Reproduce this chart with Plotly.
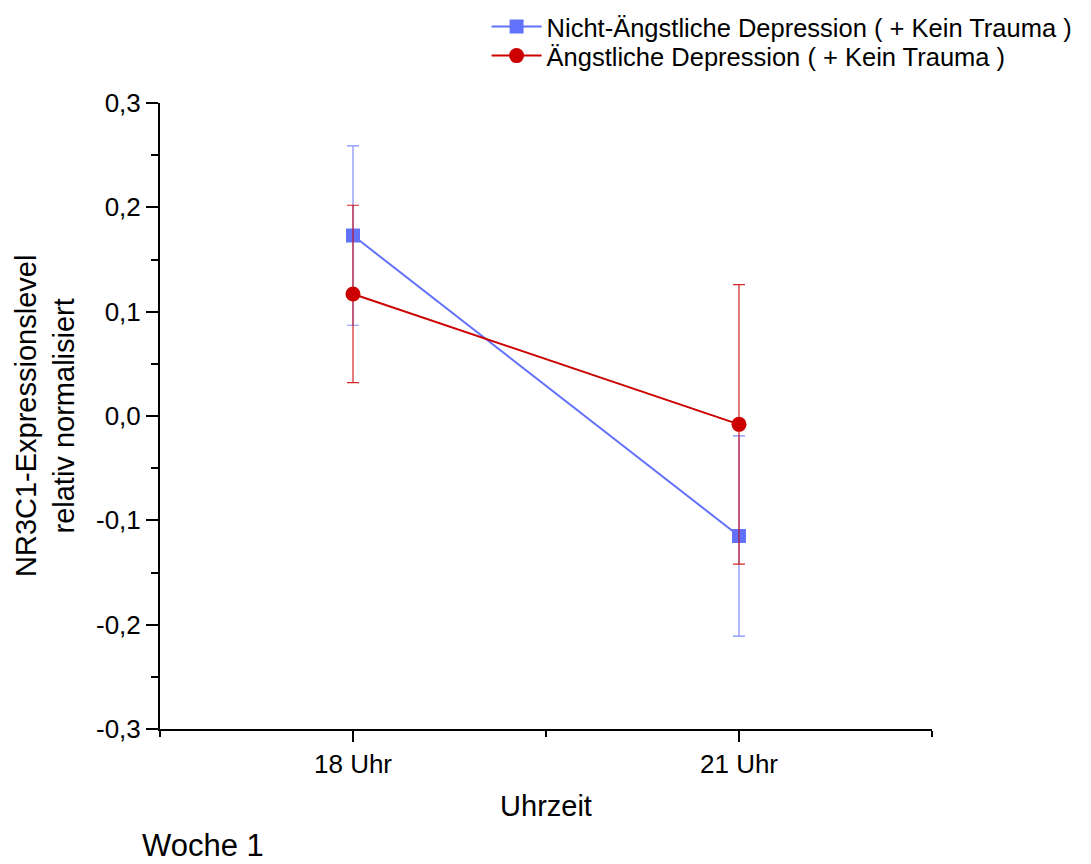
import plotly.graph_objects as go

categories = ["18 Uhr", "21 Uhr"]
series_names = ["Nicht-Ängstliche Depression ( + Kein Trauma )",
                "Ängstliche Depression ( + Kein Trauma )"]
nicht_angst_mean = [0.173, -0.115]
nicht_angst_err = [0.086, 0.096]
angst_mean = [0.117, -0.008]
angst_err = [0.085, 0.134]
y_tickvals = [-0.3, -0.2, -0.1, 0.0, 0.1, 0.2, 0.3]
y_ticktext = ["-0,3", "-0,2", "-0,1", "0,0", "0,1", "0,2", "0,3"]

xpos = list(range(len(categories)))
FONT = "Liberation Sans, Arial, sans-serif"

fig = go.Figure()
fig.add_trace(go.Scatter(
    x=xpos, y=nicht_angst_mean, name=series_names[0], mode="lines+markers",
    line=dict(color="#6272fb", width=2),
    marker=dict(symbol="square", size=14, color="#6272fb"),
    error_y=dict(type="data", array=nicht_angst_err, visible=True,
                 color="rgba(98,114,251,0.8)", thickness=1.2, width=6),
    legend="legend",
))
fig.add_trace(go.Scatter(
    x=xpos, y=angst_mean, name=series_names[1], mode="lines+markers",
    line=dict(color="#cc0000", width=2),
    marker=dict(symbol="circle", size=15, color="#cc0000"),
    error_y=dict(type="data", array=angst_err, visible=True,
                 color="rgba(204,0,0,0.85)", thickness=1.2, width=6),
    legend="legend2",
))

leg_common = dict(xref="container", yref="container", x=0.446,
                  xanchor="left", yanchor="middle",
                  font=dict(size=25.5, family=FONT),
                  bgcolor="rgba(0,0,0,0)", itemwidth=50)

fig.update_layout(
    width=1091, height=864,
    margin=dict(l=160, r=159, t=103, b=135, autoexpand=False),
    paper_bgcolor="white", plot_bgcolor="white",
    font=dict(family=FONT, color="black", size=26),
    showlegend=True,
    legend=dict(y=1 - 27 / 864, **leg_common),
    legend2=dict(y=1 - 56 / 864, **leg_common),
    xaxis=dict(
        range=[-0.5, 1.5], tickmode="array", tickvals=xpos, ticktext=categories,
        showgrid=False, zeroline=False, showline=True, linecolor="black", linewidth=2,
        ticks="outside", ticklen=11, tickwidth=2, tickcolor="black",
        tickfont=dict(size=26),
        minor=dict(tickmode="array", tickvals=[-0.5, 0.5, 1.5], ticks="outside",
                   ticklen=6, tickwidth=2, tickcolor="black", showgrid=False),
        title=dict(text="Uhrzeit", font=dict(size=29), standoff=17),
    ),
    yaxis=dict(
        range=[-0.3, 0.3], tickmode="array", tickvals=y_tickvals, ticktext=y_ticktext,
        showgrid=False, zeroline=False, showline=True, linecolor="black", linewidth=2,
        ticks="outside", ticklen=12, tickwidth=2, tickcolor="black",
        tickfont=dict(size=26),
        minor=dict(dtick=0.05, tick0=0, ticks="outside", ticklen=7, tickwidth=2,
                   tickcolor="black", showgrid=False),
    ),
    annotations=[
        dict(text="NR3C1-Expressionslevel<br>relativ normalisiert",
             xref="paper", yref="paper", x=(45 - 160) / 772, y=0.5,
             xanchor="center", yanchor="middle", textangle=-90, showarrow=False,
             font=dict(size=29, family=FONT)),
        dict(text="Woche 1", xref="paper", yref="paper", x=-0.026,
             y=(729 - 845) / 626,
             xanchor="left", yanchor="middle", showarrow=False,
             font=dict(size=31, family=FONT)),
    ],
)

fig.write_html("out.html")
